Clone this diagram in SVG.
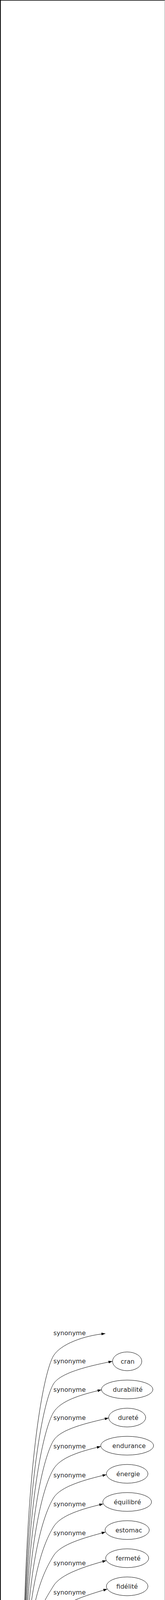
<svg xmlns="http://www.w3.org/2000/svg" width="423" height="6323" viewBox="0 0 423 6323">
<style>
text{font-family:"DejaVu Sans","Liberation Sans",sans-serif;font-size:16px;fill:#2a2a2a}
.node ellipse{fill:none;stroke:#000;stroke-width:1}
.edges path{fill:none;stroke:#000;stroke-width:1;marker-end:url(#arr)}
</style>
<defs>
<marker id="arr" markerUnits="userSpaceOnUse" markerWidth="10" markerHeight="7" refX="10" refY="3.5" orient="auto"><path d="M0,0 L10,3.5 L0,7 z" fill="#000"/></marker>
</defs>
<rect width="423" height="6323" fill="#fff"/>
<g id="frame">
<rect x="0" y="0" width="2" height="6323" fill="#000"/>
<rect x="0" y="0" width="423" height="1.5" fill="#000"/>
<rect x="422" y="0" width="1" height="6323" fill="#999"/>
<rect x="0" y="6322" width="423" height="1" fill="#333"/>
</g>
<g class="edges" id="connectors">
<g><path d="M59,4397 C59,3749 113,3511 137,3471 C155,3441 215,3419 270,3414"/><text x="137" y="3418">synonyme</text></g>
<g><path d="M59.7,4397 C59.7,3799 113,3583 137,3543 C155,3513 233,3496 288,3485"/><text x="137" y="3490">synonyme</text></g>
<g><path d="M60.3,4397 C60.3,3850 113,3656 137,3616 C155,3586 205,3571 260,3558"/><text x="137" y="3563">synonyme</text></g>
<g><path d="M61,4397 C61,3901 113,3728 137,3688 C155,3658 223.5,3643 278.5,3630"/><text x="137" y="3635">synonyme</text></g>
<g><path d="M61.6,4397 C61.6,3952 113,3801 137,3761 C155,3731 203.4,3716 258.4,3703"/><text x="137" y="3708">synonyme</text></g>
<g><path d="M62.3,4397 C62.3,4004 113,3875 137,3835 C155,3805 217.8,3788 272.8,3775"/><text x="137" y="3782">synonyme</text></g>
<g><path d="M62.9,4397 C62.9,4055 113,3949 137,3909 C155,3879 209.5,3863 264.5,3850"/><text x="137" y="3856">synonyme</text></g>
<g><path d="M63.6,4397 C63.6,4107 113,4023 137,3983 C155,3953 215.5,3937 270.5,3922"/><text x="137" y="3930">synonyme</text></g>
<g><path d="M64.2,4397 C64.2,4161 113,4100 137,4060 C155,4030 217.5,4010 272.5,3995"/><text x="137" y="4007">synonyme</text></g>
<g><path d="M64.9,4397 C64.9,4214 113,4175 137,4135 C155,4105 220,4084 275,4068"/><text x="137" y="4082">synonyme</text></g>
<g><path d="M65.5,4397 C65.5,4261 113,4243 137,4203 C155,4173 230,4160 285,4141"/><text x="137" y="4158">synonyme</text></g>
<g><path d="M66.2,4397 C66.2,4330 110,4300 140,4277 C165,4258 235,4236 289,4214"/><text x="137" y="4233">synonyme</text></g>
<g><path d="M77,4398 C108,4360 215,4312 286.5,4286"/><text x="137" y="4307">synonyme</text></g>
<g><path d="M100,4405 C150,4392 205,4378 258,4363"/><text x="137" y="4368">synonyme</text></g>
<g><path d="M113,4421 L248.2,4421"/><text x="137" y="4415">synonyme</text></g>
<g><path d="M99,4437 C150,4453 205,4468 255,4482"/><text x="137" y="4443">synonyme</text></g>
<g><path d="M77,4444 C100,4485 195,4525 266,4550"/><text x="137" y="4490">synonyme</text></g>
<g><path d="M67,4445 C67,4489 112,4511 137,4556 C148,4576 203,4594 258,4622"/><text x="137" y="4555">synonyme</text></g>
<g><path d="M66.7,4445 C66.7,4574 112,4584 137,4629 C148,4649 209,4670 264,4697"/><text x="137" y="4628">synonyme</text></g>
<g><path d="M66.3,4445 C66.3,4628 112,4661 137,4706 C148,4726 222.5,4754 277.5,4774"/><text x="137" y="4705">synonyme</text></g>
<g><path d="M66,4445 C66,4680 112,4735 137,4780 C148,4800 202.5,4829 257.5,4845"/><text x="137" y="4779">synonyme</text></g>
<g><path d="M65.6,4445 C65.6,4731 112,4809 137,4854 C148,4874 198,4902 253,4918"/><text x="137" y="4853">synonyme</text></g>
<g><path d="M65.3,4445 C65.3,4785 112,4885 137,4930 C148,4950 221,4982 276,4995"/><text x="137" y="4929">synonyme</text></g>
<g><path d="M64.9,4445 C64.9,4836 112,4959 137,5004 C148,5024 199.5,5053 254.5,5065"/><text x="137" y="5003">synonyme</text></g>
<g><path d="M64.6,4445 C64.6,4889 112,5034 137,5079 C148,5099 211,5130 266,5140"/><text x="137" y="5078">synonyme</text></g>
<g><path d="M64.2,4445 C64.2,4941 112,5108 137,5153 C148,5173 205.5,5202 260.5,5212"/><text x="137" y="5152">synonyme</text></g>
<g><path d="M63.9,4445 C63.9,4992 112,5182 137,5227 C148,5247 204.3,5275 259.3,5284"/><text x="137" y="5226">synonyme</text></g>
<g><path d="M63.5,4445 C63.5,5044 112,5255 137,5300 C148,5320 204,5348 259,5356"/><text x="137" y="5299">synonyme</text></g>
<g><path d="M63.2,4445 C63.2,5094 112,5327 137,5372 C148,5392 222.5,5420 277.5,5428"/><text x="137" y="5371">synonyme</text></g>
<g><path d="M62.8,4445 C62.8,5144 112,5399 137,5444 C148,5464 218.3,5492 273.3,5500"/><text x="137" y="5443">synonyme</text></g>
<g><path d="M62.5,4445 C62.5,5195 112,5471 137,5516 C148,5536 219.5,5564 274.5,5572"/><text x="137" y="5515">synonyme</text></g>
<g><path d="M62.1,4445 C62.1,5245 112,5543 137,5588 C148,5608 203,5636 258,5644"/><text x="137" y="5587">synonyme</text></g>
<g><path d="M61.8,4445 C61.8,5296 112,5615 137,5660 C148,5680 203,5708 258,5716"/><text x="137" y="5659">synonyme</text></g>
<g><path d="M61.4,4445 C61.4,5345 112,5686 137,5731 C148,5751 213.8,5780 268.8,5788"/><text x="137" y="5730">synonyme</text></g>
<g><path d="M61.1,4445 C61.1,5396 112,5759 137,5804 C148,5824 214.8,5852 269.8,5860"/><text x="137" y="5803">synonyme</text></g>
<g><path d="M60.7,4445 C60.7,5448 112,5833 137,5878 C148,5898 220.5,5924 275.5,5932"/><text x="137" y="5877">synonyme</text></g>
<g><path d="M60.4,4445 C60.4,5498 112,5904 137,5949 C148,5969 214.8,5996 269.8,6004"/><text x="137" y="5948">synonyme</text></g>
<g><path d="M60,4445 C60,5548 112,5976 137,6021 C148,6041 217,6068 272,6076"/><text x="137" y="6020">synonyme</text></g>
<g><path d="M59.7,4445 C59.7,5599 112,6048 137,6093 C148,6113 221.2,6140 276.2,6148"/><text x="137" y="6092">synonyme</text></g>
<g><path d="M59.3,4445 C59.3,5649 112,6120 137,6165 C148,6185 217,6212 272,6220"/><text x="137" y="6164">synonyme</text></g>
<g><path d="M59,4445 C59,5699 112,6191 137,6236 C148,6256 211,6283 266,6292"/><text x="137" y="6235">synonyme</text></g>
</g>
<g id="n-cran" class="node"><ellipse cx="326" cy="3485" rx="37.5" ry="24"/><text x="309.5" y="3491">cran</text></g>
<g id="n-durabilite" class="node"><ellipse cx="326" cy="3557" rx="66" ry="24"/><text x="289.3" y="3563">durabilité</text></g>
<g id="n-durete" class="node"><ellipse cx="326" cy="3629" rx="47.5" ry="24"/><text x="302.4" y="3635">dureté</text></g>
<g id="n-endurance" class="node"><ellipse cx="326" cy="3701" rx="67.8" ry="24"/><text x="288.1" y="3707">endurance</text></g>
<g id="n-energie" class="node"><ellipse cx="326" cy="3773" rx="53.3" ry="24"/><text x="298.3" y="3779">énergie</text></g>
<g id="n-equilibre" class="node"><ellipse cx="326" cy="3845" rx="62.5" ry="24"/><text x="291.8" y="3851">équilibré</text></g>
<g id="n-estomac" class="node"><ellipse cx="326" cy="3917" rx="56.7" ry="24"/><text x="295.9" y="3923">estomac</text></g>
<g id="n-fermete" class="node"><ellipse cx="326" cy="3989" rx="55.2" ry="24"/><text x="297" y="3995">fermeté</text></g>
<g id="n-fidelite" class="node"><ellipse cx="326" cy="4061" rx="53.3" ry="24"/><text x="298.3" y="4067">fidélité</text></g>
<g id="n-fixite" class="node"><ellipse cx="326" cy="4133" rx="42.8" ry="24"/><text x="305.7" y="4139">fixité</text></g>
<g id="n-fond" class="node"><ellipse cx="326" cy="4205" rx="38.5" ry="24"/><text x="308.8" y="4211">fond</text></g>
<g id="n-force" class="node"><ellipse cx="326" cy="4277" rx="42.2" ry="24"/><text x="306.2" y="4283">forcé</text></g>
<g id="n-homogeneite" class="node"><ellipse cx="326" cy="4349" rx="83.8" ry="24"/><text x="276.7" y="4355">homogénéité</text></g>
<g id="n-immuabilite" class="node"><ellipse cx="326" cy="4421" rx="77.8" ry="24"/><text x="281" y="4427">immuabilité</text></g>
<g id="n-immutabilite" class="node"><ellipse cx="326" cy="4493" rx="81.5" ry="24"/><text x="278.4" y="4499">immutabilité</text></g>
<g id="n-inflexibilite" class="node"><ellipse cx="326" cy="4565" rx="75.5" ry="24"/><text x="282.6" y="4571">inflexibilité</text></g>
<g id="n-intransigeance" class="node"><ellipse cx="326" cy="4637" rx="88.8" ry="24"/><text x="273.2" y="4643">intransigeance</text></g>
<g id="n-intrepidite" class="node"><ellipse cx="326" cy="4709" rx="70" ry="24"/><text x="286.5" y="4715">intrépidité</text></g>
<g id="n-nettete" class="node"><ellipse cx="326" cy="4781" rx="50.3" ry="24"/><text x="300.4" y="4787">netteté</text></g>
<g id="n-obstination" class="node"><ellipse cx="326" cy="4853" rx="72.2" ry="24"/><text x="284.9" y="4859">obstination</text></g>
<g id="n-opiniatrete" class="node"><ellipse cx="326" cy="4925" rx="75.8" ry="24"/><text x="282.4" y="4931">opiniâtreté</text></g>
<g id="n-poigne" class="node"><ellipse cx="326" cy="4997" rx="50" ry="24"/><text x="300.6" y="5003">poigne</text></g>
<g id="n-profondeur" class="node"><ellipse cx="326" cy="5069" rx="72.2" ry="24"/><text x="284.9" y="5075">profondeur</text></g>
<g id="n-rectitude" class="node"><ellipse cx="326" cy="5141" rx="60" ry="24"/><text x="293.6" y="5147">rectitude</text></g>
<g id="n-resilience" class="node"><ellipse cx="326" cy="5213" rx="65.5" ry="24"/><text x="289.7" y="5219">résilience</text></g>
<g id="n-resistance" class="node"><ellipse cx="326" cy="5285" rx="66.7" ry="24"/><text x="288.8" y="5291">résistance</text></g>
<g id="n-resolution" class="node"><ellipse cx="326" cy="5357" rx="67.2" ry="24"/><text x="288.5" y="5363">résolution</text></g>
<g id="n-ressort" class="node"><ellipse cx="326" cy="5429" rx="48.8" ry="24"/><text x="301.5" y="5435">ressort</text></g>
<g id="n-rigidite" class="node"><ellipse cx="326" cy="5501" rx="53" ry="24"/><text x="298.5" y="5507">rigidité</text></g>
<g id="n-rigueur" class="node"><ellipse cx="326" cy="5573" rx="51.7" ry="24"/><text x="299.4" y="5579">rigueur</text></g>
<g id="n-robustesse" class="node"><ellipse cx="326" cy="5645" rx="68.3" ry="24"/><text x="287.7" y="5651">robustesse</text></g>
<g id="n-sang-froid" class="node"><ellipse cx="326" cy="5717" rx="68.3" ry="24"/><text x="287.7" y="5723">sang-froid</text></g>
<g id="n-severite" class="node"><ellipse cx="326" cy="5789" rx="57.5" ry="24"/><text x="295.3" y="5795">sévérité</text></g>
<g id="n-stabilite" class="node"><ellipse cx="326" cy="5861" rx="56.5" ry="24"/><text x="296" y="5867">stabilité</text></g>
<g id="n-surete" class="node"><ellipse cx="326" cy="5933" rx="50.8" ry="24"/><text x="300.1" y="5939">sûreté</text></g>
<g id="n-tenacite" class="node"><ellipse cx="326" cy="6005" rx="56.5" ry="24"/><text x="296" y="6011">ténacité</text></g>
<g id="n-vigueur" class="node"><ellipse cx="326" cy="6077" rx="54.2" ry="24"/><text x="297.7" y="6083">vigueur</text></g>
<g id="n-virilite" class="node"><ellipse cx="326" cy="6149" rx="50" ry="24"/><text x="300.6" y="6155">virilité</text></g>
<g id="n-volonte" class="node"><ellipse cx="326" cy="6221" rx="54.2" ry="24"/><text x="297.7" y="6227">volonté</text></g>
<g id="n-coriacite" class="node"><ellipse cx="326" cy="6293" rx="60" ry="24"/><text x="293.6" y="6299">coriacité</text></g>
</svg>
